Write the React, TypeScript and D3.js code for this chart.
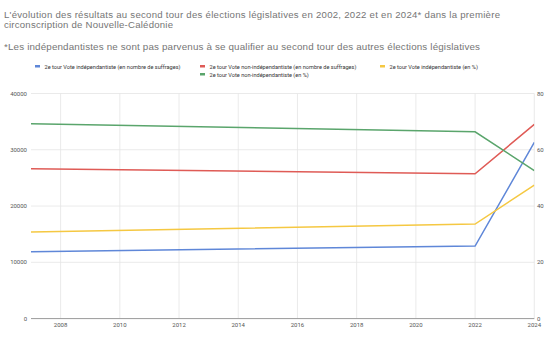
import React from "react";
import * as d3 from "d3";

const years = [2002, 2022, 2024];
const indepVotes = [11540, 12900, 31300];
const nonIndepVotes = [26930, 25740, 34510];
const indepPct = [29.8, 33.6, 47.4];
const nonIndepPct = [70.2, 66.4, 52.6];
const xTicks = [2008, 2010, 2012, 2014, 2016, 2018, 2020, 2022, 2024];
const leftTicks = [0, 10000, 20000, 30000, 40000];
const rightTicks = [0, 20, 40, 60, 80];

const titleLines = [
  "L'évolution des résultats au second tour des élections législatives en 2002, 2022 et en 2024* dans la première",
  "circonscription de Nouvelle-Calédonie",
];
const subtitle =
  "*Les indépendantistes ne sont pas parvenus à se qualifier au second tour des autres élections législatives";

const series = [
  { name: "2e tour Vote indépendantiste (en nombre de suffrages)", values: indepVotes, axis: "left", color: "#5f87d8" },
  { name: "2e tour Vote non-indépendantiste (en nombre de suffrages)", values: nonIndepVotes, axis: "left", color: "#df5b56" },
  { name: "2e tour Vote indépendantiste (en %)", values: indepPct, axis: "right", color: "#f5c842" },
  { name: "2e tour Vote non-indépendantiste (en %)", values: nonIndepPct, axis: "right", color: "#5aa56c" },
];

export default function App() {
  const W = 560, H = 343;
  const left = 31, right = 534.3, top = 93.5, bottom = 318.6;
  const x = d3.scaleLinear().domain([2007, 2024]).range([left, right]);
  const yL = d3.scaleLinear().domain([0, 40000]).range([bottom, top]);
  const yR = d3.scaleLinear().domain([0, 80]).range([bottom, top]);
  const font = "'Liberation Sans', Arial, sans-serif";
  const lfont = "Roboto, 'Noto Sans', sans-serif";
  const legendPos = [
    { x: 35, y: 67.5 },
    { x: 200, y: 67.5 },
    { x: 380, y: 67.5 },
    { x: 200, y: 75.5 },
  ];
  return (
    <svg width={W} height={H} style={{ position: "absolute", left: 0, top: 0, background: "#fff" }}>
      <defs>
        <clipPath id="plot">
          <rect x={left} y={top - 5} width={right - left} height={bottom - top + 10} />
        </clipPath>
      </defs>
      <rect width={W} height={H} fill="#fff" />
      <text x={4} y={18} fontFamily={font} fontSize={9.6} fill="#757575" textLength={496} lengthAdjust="spacing">{titleLines[0]}</text>
      <text x={4} y={27.5} fontFamily={font} fontSize={9.6} fill="#757575" textLength={169} lengthAdjust="spacing">{titleLines[1]}</text>
      <text x={4} y={49.5} fontFamily={font} fontSize={9.8} fill="#757575" textLength={476} lengthAdjust="spacing">{subtitle}</text>
      {series.map((s, i) => (
        <g key={i}>
          <rect x={legendPos[i].x} y={legendPos[i].y - 2.5} width={5} height={2.5} fill={s.color} />
          <text x={legendPos[i].x + 9.5} y={legendPos[i].y + 1.2} fontFamily={lfont} fontSize={5.6} fill="#333">{s.name}</text>
        </g>
      ))}
      {leftTicks.map((t) => (
        <g key={"l" + t}>
          {t > 0 && <line x1={left} x2={right} y1={yL(t)} y2={yL(t)} stroke="#e4e4e4" strokeWidth={0.8} />}
          <text x={27} y={yL(t) + 2} textAnchor="end" fontFamily={lfont} fontSize={6} fill="#555">{t}</text>
        </g>
      ))}
      {rightTicks.map((t) => (
        <text key={"r" + t} x={537} y={yR(t) + 2} fontFamily={lfont} fontSize={6} fill="#555">{t}</text>
      ))}
      {xTicks.map((t) => (
        <g key={"x" + t}>
          <line x1={x(t)} x2={x(t)} y1={top} y2={bottom} stroke="#e4e4e4" strokeWidth={0.8} />
          <text x={x(t)} y={327} textAnchor="middle" fontFamily={lfont} fontSize={6} fill="#555">{t}</text>
        </g>
      ))}
      <line x1={left} x2={right} y1={bottom} y2={bottom} stroke="#9a9a9a" strokeWidth={1} />
      <g clipPath="url(#plot)">
        {series.map((s, i) => {
          const yS = s.axis === "left" ? yL : yR;
          const line = d3.line<number>().x((_, j) => x(years[j])).y((v) => yS(v));
          return <path key={i} d={line(s.values) || ""} fill="none" stroke={s.color} strokeWidth={1.5} />;
        })}
      </g>
    </svg>
  );
}
